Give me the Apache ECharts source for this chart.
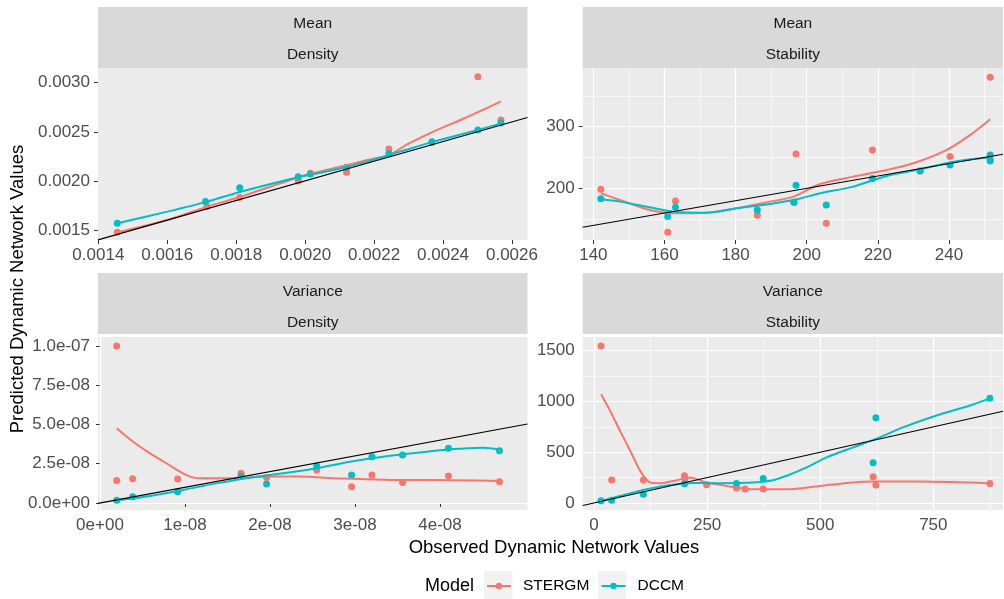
<!DOCTYPE html>
<html><head><meta charset="utf-8">
<script src="https://cdn.jsdelivr.net/npm/echarts@6/dist/echarts.min.js"></script>
<style>html,body{margin:0;padding:0;background:#fff}#c{width:1004px;height:599px}</style>
</head><body><div id="c"></div>
<script>
// ---------- DATA ----------
const stripTop = ['Mean', 'Mean', 'Variance', 'Variance'];
const stripBottom = ['Density', 'Stability', 'Density', 'Stability'];
const models = ['STERGM', 'DCCM'];

// axis limits [min, max] per panel
const xLimits = [[0.001399, 0.002645], [137.0, 255.2], [-2.35e-10, 5.03e-8], [-25, 904]];
const yLimits = [[0.001398, 0.00315], [116.2, 395], [-4.46e-9, 1.057e-7], [-69, 1635]];

// tick values and labels
const xTicks = [
  [0.0014, 0.0016, 0.0018, 0.0020, 0.0022, 0.0024, 0.0026],
  [140, 160, 180, 200, 220, 240],
  [0, 1e-8, 2e-8, 3e-8, 4e-8],
  [0, 250, 500, 750]
];
const xTickLabels = [
  ['0.0014', '0.0016', '0.0018', '0.0020', '0.0022', '0.0024', '0.0026'],
  ['140', '160', '180', '200', '220', '240'],
  ['0e+00', '1e-08', '2e-08', '3e-08', '4e-08'],
  ['0', '250', '500', '750']
];
const yTicks = [
  [0.0015, 0.0020, 0.0025, 0.0030],
  [200, 300],
  [0, 2.5e-8, 5e-8, 7.5e-8, 1e-7],
  [0, 500, 1000, 1500]
];
const yTickLabels = [
  ['0.0015', '0.0020', '0.0025', '0.0030'],
  ['200', '300'],
  ['0.0e+00', '2.5e-08', '5.0e-08', '7.5e-08', '1.0e-07'],
  ['0', '500', '1000', '1500']
];
const xMinor = [
  [0.0015, 0.0017, 0.0019, 0.0021, 0.0023, 0.0025],
  [150, 170, 190, 210, 230, 250],
  [5e-9, 1.5e-8, 2.5e-8, 3.5e-8, 4.5e-8],
  [125, 375, 625, 875]
];
const yMinor = [
  [0.00175, 0.00225, 0.00275],
  [150, 250, 350],
  [1.25e-8, 3.75e-8, 6.25e-8, 8.75e-8],
  [250, 750, 1250]
];

// ---- Mean / Density ----
const meanDensitySTERGM = [[0.001455,0.001476],[0.001715,0.001738],[0.00181,0.00183],[0.00198,0.002],[0.002015,0.002077],[0.00212,0.002087],[0.002243,0.002325],[0.002368,0.00239],[0.002501,0.003061],[0.002568,0.00262]];
const meanDensityDCCM = [[0.001455,0.001568],[0.001711,0.001789],[0.00181,0.001931],[0.00198,0.002043],[0.002015,0.00207],[0.00212,0.00214],[0.002243,0.00228],[0.002368,0.0024],[0.002501,0.002518],[0.002568,0.00259]];
const meanDensitySTERGMFit = [[0.001455,0.001476],[0.0016,0.001602],[0.001716,0.001738],[0.001813,0.001839],[0.001986,0.002043],[0.002083,0.002128],[0.00218,0.002213],[0.002243,0.002265],[0.0023,0.00238],[0.002383,0.00252],[0.00245,0.00262],[0.00252,0.00273],[0.002568,0.00281]];
const meanDensityDCCMFit = [[0.001455,0.001568],[0.0016,0.001687],[0.001716,0.001789],[0.001813,0.00189],[0.001986,0.002043],[0.002083,0.002111],[0.00218,0.002196],[0.002276,0.002298],[0.002373,0.0024],[0.002501,0.002518],[0.002568,0.002586]];

// ---- Mean / Stability ----
const meanStabilitySTERGM = [[142.1,198.4],[160.9,128.6],[163.1,179.5],[186.1,156.2],[196.4,177],[197,255.7],[205.5,143.2],[218.5,262.2],[231.9,228],[240.3,251.4],[251.6,380],[251.6,247]];
const meanStabilityDCCM = [[142.1,183.2],[160.9,154.1],[163.1,169.2],[186.1,164.9],[196.4,177.3],[197,204.9],[205.5,173],[218.5,216],[231.9,228],[240.3,237.8],[251.6,254],[251.6,244.3]];
const meanStabilitySTERGMFit = [[142.1,191.9],[147.5,181],[155.9,164.9],[163.4,159.5],[171.9,160.5],[180.3,167.6],[189.7,178.4],[196.3,186.5],[203.8,207],[213.1,218.9],[222.5,229.7],[230,240.5],[239.4,262.2],[246,286.5],[251.6,311.9]];
const meanStabilityDCCMFit = [[142.1,182.2],[147.5,178.4],[155.9,169.2],[162.5,162.2],[171.9,160.5],[180.3,167.6],[189.7,174.6],[197.2,182.2],[203.8,191.9],[213.1,202.7],[222.5,220],[231.9,230.8],[241.3,243.2],[251.6,250.3]];

// ---- Variance / Density ----
const varDensitySTERGM = [[1.96e-9,1.0e-7],[1.96e-9,1.44e-8],[3.84e-9,1.55e-8],[9.14e-9,1.53e-8],[1.66e-8,1.89e-8],[1.96e-8,1.62e-8],[2.55e-8,2.1e-8],[2.96e-8,1.04e-8],[3.2e-8,1.78e-8],[3.56e-8,1.3e-8],[4.1e-8,1.72e-8],[4.7e-8,1.36e-8]];
const varDensityDCCM = [[1.96e-9,1.7e-9],[3.84e-9,4.0e-9],[9.14e-9,7.2e-9],[1.66e-8,1.7e-8],[1.96e-8,1.21e-8],[2.55e-8,2.36e-8],[2.96e-8,1.78e-8],[3.2e-8,2.95e-8],[3.56e-8,3.06e-8],[4.1e-8,3.48e-8],[4.7e-8,3.33e-8]];
const varDensitySTERGMFit = [[1.96e-9,4.76e-8],[3.9e-9,3.9e-8],[5.9e-9,3.16e-8],[7.8e-9,2.53e-8],[1.02e-8,1.78e-8],[1.18e-8,1.57e-8],[1.57e-8,1.57e-8],[1.96e-8,1.68e-8],[2.35e-8,1.68e-8],[2.75e-8,1.57e-8],[3.14e-8,1.51e-8],[3.53e-8,1.46e-8],[3.92e-8,1.46e-8],[4.7e-8,1.4e-8]];
const varDensityDCCMFit = [[1.96e-9,1.7e-9],[5.9e-9,4.5e-9],[9.8e-9,8.3e-9],[1.37e-8,1.25e-8],[1.76e-8,1.61e-8],[2.16e-8,1.89e-8],[2.55e-8,2.21e-8],[2.94e-8,2.63e-8],[3.33e-8,2.95e-8],[3.73e-8,3.2e-8],[4.12e-8,3.42e-8],[4.51e-8,3.52e-8],[4.7e-8,3.42e-8]];

// ---- Variance / Stability ----
const varStabilitySTERGM = [[15.5,1546],[39,226],[109,226],[200,268],[201,240],[249,180],[315,148],[334,138],[374,138],[617,258],[623,178],[875,192]];
const varStabilityDCCM = [[15.5,22],[39,28],[109,86],[200,190],[315,193],[374,241],[617,396],[623,839],[875,1031]];
const varStabilitySTERGMFit = [[15.5,1070],[35,912],[57,714],[80,515],[102,317],[124,201],[146,195],[183,225],[212,251],[249,201],[293,168],[352,135],[426,135],[500,168],[573,201],[617,211],[720,211],[831,201],[875,192]];
const varStabilityDCCMFit = [[15.5,20],[57,69],[116,135],[168,178],[220,198],[278,195],[352,201],[396,225],[426,268],[470,350],[514,449],[573,548],[623,631],[684,747],[757,862],[831,961],[875,1031]];

const pointsSTERGM = [meanDensitySTERGM, meanStabilitySTERGM, varDensitySTERGM, varStabilitySTERGM];
const pointsDCCM = [meanDensityDCCM, meanStabilityDCCM, varDensityDCCM, varStabilityDCCM];
const fitSTERGM = [meanDensitySTERGMFit, meanStabilitySTERGMFit, varDensitySTERGMFit, varStabilitySTERGMFit];
const fitDCCM = [meanDensityDCCMFit, meanStabilityDCCMFit, varDensityDCCMFit, varStabilityDCCMFit];

// ---------- LAYOUT / STYLE ----------
const FONT = 'Liberation Sans, Arial, sans-serif';
const RED = '#F8766D', CYAN = '#00BFC4';
const gridBoxes = [
  {left: 98, top: 68, width: 429.5, height: 172},
  {left: 582.7, top: 68, width: 420.3, height: 172},
  {left: 98, top: 337, width: 429.5, height: 173},
  {left: 582.7, top: 337, width: 420.3, height: 173}
];
const stripBoxes = [
  {x: 98, y: 7, w: 429.5, t1: 24, t2: 55},
  {x: 582.7, y: 7, w: 420.3, t1: 24, t2: 55},
  {x: 98, y: 273, w: 429.5, t1: 292, t2: 323},
  {x: 582.7, y: 273, w: 420.3, t1: 292, t2: 323}
];

function fmt(ticks, labels, span) {
  return function (v) {
    const k = ticks.findIndex(t => Math.abs(t - v) <= 1e-6 * span);
    return k >= 0 ? labels[k] : '';
  };
}

const grid = [], xAxis = [], yAxis = [], series = [], graphic = [];
for (let i = 0; i < 4; i++) {
  grid.push(Object.assign({show: true, backgroundColor: '#EBEBEB', borderWidth: 0, containLabel: false}, gridBoxes[i]));
  const xs = xLimits[i][1] - xLimits[i][0], ys = yLimits[i][1] - yLimits[i][0];
  xAxis.push({
    gridIndex: i, type: 'value', min: xLimits[i][0], max: xLimits[i][1], scale: true,
    axisLine: {show: false},
    axisTick: {show: true, length: 4, lineStyle: {color: '#333333', width: 1}, customValues: xTicks[i]},
    axisLabel: {customValues: xTicks[i], formatter: fmt(xTicks[i], xTickLabels[i], xs), color: '#4D4D4D', fontSize: 17, fontFamily: FONT, margin: 7},
    splitLine: {show: false}
  });
  yAxis.push({
    gridIndex: i, type: 'value', min: yLimits[i][0], max: yLimits[i][1], scale: true,
    axisLine: {show: false},
    axisTick: {show: true, length: 4, lineStyle: {color: '#333333', width: 1}, customValues: yTicks[i]},
    axisLabel: {customValues: yTicks[i], formatter: fmt(yTicks[i], yTickLabels[i], ys), color: '#4D4D4D', fontSize: 17, fontFamily: FONT, margin: 8},
    splitLine: {show: false}
  });
  const ml = [];
  xMinor[i].forEach(v => ml.push({xAxis: v, lineStyle: {width: 0.6}}));
  yMinor[i].forEach(v => ml.push({yAxis: v, lineStyle: {width: 0.6}}));
  xTicks[i].forEach(v => ml.push({xAxis: v, lineStyle: {width: 1.2}}));
  yTicks[i].forEach(v => ml.push({yAxis: v, lineStyle: {width: 1.2}}));
  // gridlines carrier
  series.push({
    type: 'line', xAxisIndex: i, yAxisIndex: i, data: [[xLimits[i][0], yLimits[i][0]]],
    symbol: 'none', lineStyle: {width: 0, opacity: 0}, silent: true, z: 1, animation: false,
    markLine: {z: 1, silent: true, animation: false, symbol: ['none', 'none'], label: {show: false},
      lineStyle: {color: '#FFFFFF', type: 'solid', width: 1.2}, emphasis: {disabled: true}, data: ml}
  });
  series.push({name: 'STERGM', type: 'line', xAxisIndex: i, yAxisIndex: i, data: fitSTERGM[i], smooth: 0.3,
    symbol: 'none', lineStyle: {color: RED, width: 2}, itemStyle: {color: RED}, z: 3, animation: false, silent: true});
  series.push({name: 'DCCM', type: 'line', xAxisIndex: i, yAxisIndex: i, data: fitDCCM[i], smooth: 0.3,
    symbol: 'none', lineStyle: {color: CYAN, width: 2}, itemStyle: {color: CYAN}, z: 3, animation: false, silent: true});
  series.push({name: 'STERGM', type: 'scatter', xAxisIndex: i, yAxisIndex: i, data: pointsSTERGM[i],
    symbolSize: 7, itemStyle: {color: RED, opacity: 1}, z: 2, animation: false, silent: true});
  series.push({name: 'DCCM', type: 'scatter', xAxisIndex: i, yAxisIndex: i, data: pointsDCCM[i],
    symbolSize: 7, itemStyle: {color: CYAN, opacity: 1}, z: 2, animation: false, silent: true});
  // identity reference line y = x
  series.push({type: 'line', xAxisIndex: i, yAxisIndex: i,
    data: [[xLimits[i][0], xLimits[i][0]], [xLimits[i][1], xLimits[i][1]]],
    symbol: 'none', lineStyle: {color: '#000000', width: 1.1}, z: 4, animation: false, silent: true});

  const s = stripBoxes[i];
  graphic.push({type: 'rect', shape: {x: s.x, y: s.y, width: s.w, height: 61}, style: {fill: '#D9D9D9'}, silent: true, z: -1});
  graphic.push({type: 'text', x: s.x + s.w / 2, y: s.t1, style: {text: stripTop[i], fill: '#1A1A1A', font: '15.5px ' + FONT, textAlign: 'center', textVerticalAlign: 'middle'}, silent: true});
  graphic.push({type: 'text', x: s.x + s.w / 2, y: s.t2, style: {text: stripBottom[i], fill: '#1A1A1A', font: '15.5px ' + FONT, textAlign: 'center', textVerticalAlign: 'middle'}, silent: true});
}

// axis titles
graphic.push({type: 'text', x: 554, y: 548, style: {text: 'Observed Dynamic Network Values', fill: '#000', font: '18.5px ' + FONT, textAlign: 'center', textVerticalAlign: 'middle'}, silent: true});
graphic.push({type: 'text', x: 18, y: 289, rotation: Math.PI / 2, style: {text: 'Predicted Dynamic Network Values', fill: '#000', font: '18.5px ' + FONT, textAlign: 'center', textVerticalAlign: 'middle'}, silent: true});
// legend title and key boxes
graphic.push({type: 'text', x: 425, y: 586, style: {text: 'Model', fill: '#000', font: '18px ' + FONT, textAlign: 'left', textVerticalAlign: 'middle'}, silent: true});
graphic.push({type: 'rect', shape: {x: 484, y: 571, width: 28.5, height: 28}, style: {fill: '#F2F2F2'}, silent: true, z: -1});
graphic.push({type: 'rect', shape: {x: 598, y: 571, width: 28.5, height: 28}, style: {fill: '#F2F2F2'}, silent: true, z: -1});

const legendCommon = {orient: 'horizontal', itemWidth: 24, itemHeight: 8, top: 578, padding: 0, selectedMode: false,
  textStyle: {fontSize: 15.5, fontFamily: FONT, color: '#000', padding: [0, 0, 0, 7]}};
const legend = [
  Object.assign({}, legendCommon, {left: 486, data: [models[0]]}),
  Object.assign({}, legendCommon, {left: 600.5, data: [models[1]]})
];

const chart = echarts.init(document.getElementById('c'), null, {renderer: 'canvas'});
chart.setOption({
  backgroundColor: '#FFFFFF',
  animation: false,
  grid, xAxis, yAxis, series, legend, graphic
});
</script></body></html>
